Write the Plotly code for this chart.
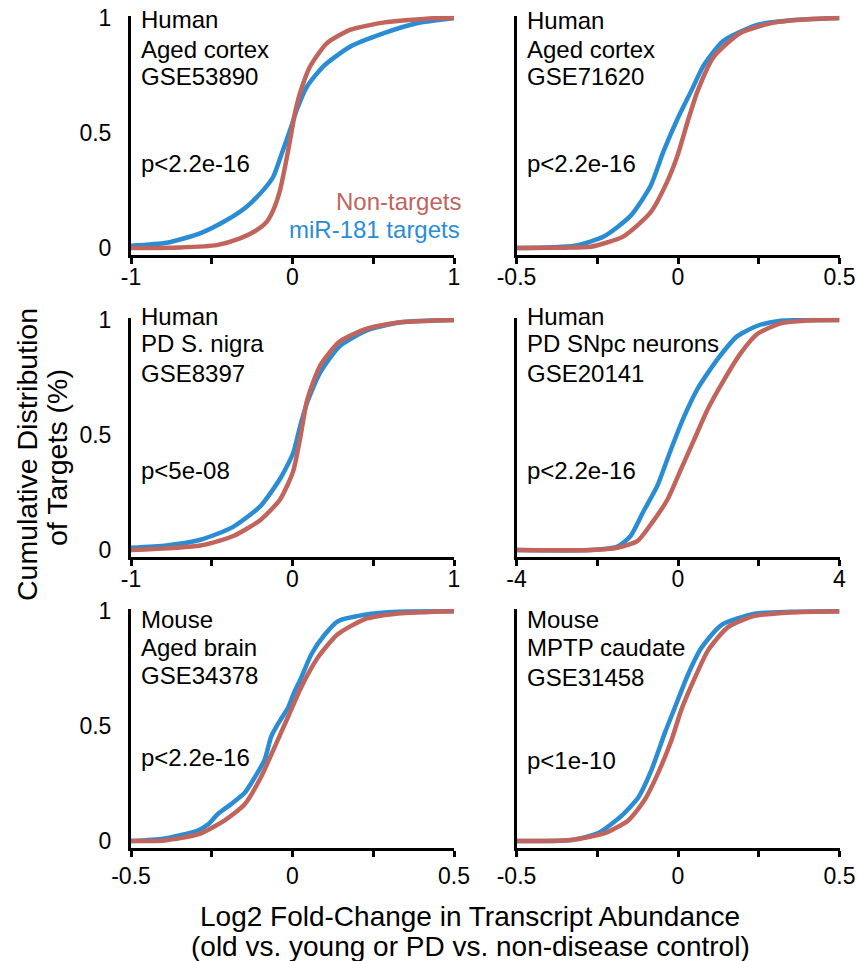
import plotly.graph_objects as go

W, H = 857, 961
RED = "#C1645C"
BLUE = "#2A8DD4"
FONT = "Liberation Sans, Arial, sans-serif"

# ---------------- data ----------------
p1_nt_x = [-1, -0.7, -0.469, -0.325, -0.222, -0.16, -0.119, -0.077, -0.046, -0.015, 0.015, 0.046, 0.108, 0.212, 0.356, 0.562, 0.872, 1.0]
p1_nt_y = [0.0, 0.003, 0.013, 0.042, 0.078, 0.114, 0.165, 0.252, 0.354, 0.47, 0.586, 0.672, 0.788, 0.89, 0.948, 0.98, 0.999, 1.0]
p1_t_x = [-1, -0.779, -0.573, -0.407, -0.284, -0.181, -0.119, -0.067, -0.015, 0.026, 0.088, 0.191, 0.356, 0.562, 0.769, 1.0]
p1_t_y = [0.01, 0.023, 0.064, 0.122, 0.18, 0.252, 0.31, 0.41, 0.513, 0.6, 0.70, 0.79, 0.875, 0.933, 0.977, 1.0]

p2_nt_x = [-0.5, -0.35, -0.27, -0.17, -0.085, -0.033, -0.002, 0.03, 0.06, 0.11, 0.193, 0.296, 0.4, 0.5]
p2_nt_y = [0.0, 0.002, 0.006, 0.05, 0.155, 0.29, 0.40, 0.55, 0.68, 0.83, 0.935, 0.98, 0.995, 1.0]
p2_t_x = [-0.5, -0.32, -0.23, -0.147, -0.085, -0.045, -0.002, 0.04, 0.08, 0.14, 0.245, 0.35, 0.5]
p2_t_y = [0.0, 0.01, 0.05, 0.14, 0.27, 0.42, 0.56, 0.68, 0.795, 0.90, 0.97, 0.99, 1.0]

p3_nt_x = [-1, -0.57, -0.37, -0.2, -0.077, 0.003, 0.046, 0.09, 0.17, 0.29, 0.46, 0.67, 1.0]
p3_nt_y = [0.0, 0.02, 0.06, 0.13, 0.22, 0.34, 0.48, 0.65, 0.80, 0.905, 0.962, 0.99, 1.0]
p3_t_x = [-1, -0.78, -0.57, -0.37, -0.2, -0.077, 0.003, 0.046, 0.09, 0.17, 0.29, 0.46, 0.67, 1.0]
p3_t_y = [0.01, 0.02, 0.045, 0.10, 0.19, 0.31, 0.42, 0.535, 0.64, 0.77, 0.885, 0.955, 0.99, 1.0]

p4_nt_x = [-4, -2.17, -1.5, -1.0, -0.68, -0.26, 0.07, 0.40, 0.73, 1.14, 1.55, 1.97, 2.54, 3.2, 4]
p4_nt_y = [0.0, 0.0, 0.01, 0.04, 0.11, 0.22, 0.35, 0.48, 0.61, 0.74, 0.855, 0.94, 0.985, 0.998, 1.0]
p4_t_x = [-4, -2.17, -1.5, -1.18, -0.85, -0.51, -0.18, 0.15, 0.48, 0.98, 1.47, 1.97, 2.54, 4]
p4_t_y = [0.0, 0.0, 0.015, 0.06, 0.17, 0.28, 0.435, 0.58, 0.70, 0.83, 0.93, 0.975, 0.997, 1.0]

p5_nt_x = [-0.5, -0.396, -0.29, -0.21, -0.148, -0.097, -0.055, -0.014, 0.027, 0.079, 0.14, 0.223, 0.327, 0.5]
p5_nt_y = [0.0, 0.003, 0.03, 0.09, 0.16, 0.28, 0.41, 0.54, 0.67, 0.80, 0.90, 0.965, 0.99, 1.0]
p5_t_x = [-0.5, -0.4, -0.293, -0.262, -0.231, -0.189, -0.148, -0.117, -0.086, -0.066, -0.045, -0.014, 0.007, 0.027, 0.058, 0.1, 0.141, 0.224, 0.327, 0.5]
p5_t_y = [0.0, 0.01, 0.046, 0.072, 0.118, 0.162, 0.21, 0.277, 0.355, 0.455, 0.51, 0.58, 0.653, 0.711, 0.812, 0.899, 0.957, 0.985, 0.998, 1.0]

p6_nt_x = [-0.5, -0.33, -0.226, -0.154, -0.103, -0.062, -0.02, 0.01, 0.052, 0.093, 0.154, 0.237, 0.35, 0.5]
p6_nt_y = [0.0, 0.005, 0.035, 0.09, 0.18, 0.295, 0.44, 0.57, 0.71, 0.83, 0.93, 0.98, 0.995, 1.0]
p6_t_x = [-0.5, -0.33, -0.247, -0.175, -0.123, -0.082, -0.041, -0.01, 0.031, 0.072, 0.134, 0.237, 0.35, 0.5]
p6_t_y = [0.0, 0.005, 0.035, 0.11, 0.19, 0.31, 0.47, 0.58, 0.725, 0.84, 0.94, 0.99, 0.998, 1.0]

panel_lines = [
    ["Human", "Aged cortex", "GSE53890", "p<2.2e-16"],
    ["Human", "Aged cortex", "GSE71620", "p<2.2e-16"],
    ["Human", "PD S. nigra", "GSE8397", "p<5e-08"],
    ["Human", "PD SNpc neurons", "GSE20141", "p<2.2e-16"],
    ["Mouse", "Aged brain", "GSE34378", "p<2.2e-16"],
    ["Mouse", "MPTP caudate", "GSE31458", "p<1e-10"],
]
x_ranges = [(-1, 1), (-0.5, 0.5), (-1, 1), (-4, 4), (-0.5, 0.5), (-0.5, 0.5)]
x_tickvals = [[-1, -0.5, 0, 0.5, 1], [-0.5, -0.25, 0, 0.25, 0.5], [-1, -0.5, 0, 0.5, 1],
              [-4, -2, 0, 2, 4], [-0.5, -0.25, 0, 0.25, 0.5], [-0.5, -0.25, 0, 0.25, 0.5]]
x_ticktext = [["-1", "", "0", "", "1"], ["-0.5", "", "0", "", "0.5"], ["-1", "", "0", "", "1"],
              ["-4", "", "0", "", "4"], ["-0.5", "", "0", "", "0.5"], ["-0.5", "", "0", "", "0.5"]]
y_tickvals = [0, 0.5, 1]
y_ticktext = ["0", "0.5", "1"]
legend_labels = ["Non-targets", "miR-181 targets"]
x_title = ["Log2 Fold-Change in Transcript Abundance", "(old vs. young or PD vs. non-disease control)"]
y_title = ["Cumulative Distribution", "of Targets (%)"]

series = [
    (p1_t_x, p1_t_y, p1_nt_x, p1_nt_y),
    (p2_t_x, p2_t_y, p2_nt_x, p2_nt_y),
    (p3_t_x, p3_t_y, p3_nt_x, p3_nt_y),
    (p4_t_x, p4_t_y, p4_nt_x, p4_nt_y),
    (p5_t_x, p5_t_y, p5_nt_x, p5_nt_y),
    (p6_t_x, p6_t_y, p6_nt_x, p6_nt_y),
]

# ---------------- layout geometry (pixels) ----------------
col_px = [(131, 454), (516.5, 839.5)]
row_px = [(15.7, 255), (317.7, 557), (609, 848)]  # top, bottom
YR = [-0.03, 1.01]

def px(xp):
    return xp / W

def py(yp):
    return 1 - yp / H

fig = go.Figure()
layout = dict(
    width=W, height=H, margin=dict(l=0, r=0, t=0, b=0, autoexpand=False),
    paper_bgcolor="white", plot_bgcolor="white", showlegend=False,
    font=dict(family=FONT, color="black", size=22),
)

# text line pixel y-centres for each panel
text_y = [
    [19.5, 49.5, 76.5, 164],
    [20.5, 50, 77, 163],
    [316, 344, 374, 470],
    [316, 344, 374, 470],
    [619.5, 647.5, 675.5, 757.5],
    [619.5, 647.5, 677, 760],
]
annotations = []
for i in range(6):
    r, c = divmod(i, 2)
    n = i + 1
    xa = "xaxis" if n == 1 else f"xaxis{n}"
    ya = "yaxis" if n == 1 else f"yaxis{n}"
    xr = "x" if n == 1 else f"x{n}"
    yr = "y" if n == 1 else f"y{n}"
    tx, ty, ntx, nty = series[i]
    fig.add_trace(go.Scatter(x=tx, y=ty, mode="lines", xaxis=xr, yaxis=yr,
                             line=dict(color=BLUE, width=4.5, shape="spline", smoothing=0.6),
                             name=legend_labels[1]))
    fig.add_trace(go.Scatter(x=ntx, y=nty, mode="lines", xaxis=xr, yaxis=yr,
                             line=dict(color=RED, width=4.5, shape="spline", smoothing=0.6),
                             name=legend_labels[0]))
    x0, x1 = col_px[c]
    y0, y1 = row_px[r]
    layout[xa] = dict(domain=[px(x0), px(x1)], range=list(x_ranges[i]), anchor=yr,
                      automargin=False,
                      showline=True, linecolor="black", linewidth=3, showgrid=False, zeroline=False,
                      ticks="outside", ticklen=6, tickwidth=2.5, tickcolor="black",
                      tickvals=x_tickvals[i], ticktext=x_ticktext[i],
                      tickfont=dict(size=23, family=FONT, color="black"),
                      ticklabelstandoff=(-1 if r == 2 else -7))
    layout[ya] = dict(domain=[py(y1), py(y0)], range=YR, anchor=xr,
                      automargin=False,
                      showline=True, linecolor="black", linewidth=3, showgrid=False, zeroline=False,
                      ticks="", tickvals=y_tickvals,
                      ticktext=(y_ticktext if c == 0 else ["", "", ""]),
                      tickfont=dict(size=23, family=FONT, color="black"),
                      ticklabelstandoff=12)
    for k, txt in enumerate(panel_lines[i]):
        annotations.append(dict(text=txt, xref="paper", yref="paper",
                                x=px(x0 + 8), y=py(text_y[i][k]), xanchor="left", yanchor="middle",
                                showarrow=False, font=dict(size=24, family=FONT, color="black")))

# legend text in first panel
annotations.append(dict(text=legend_labels[0], xref="paper", yref="paper", x=px(463), y=py(201.5),
                        xanchor="right", yanchor="middle", showarrow=False,
                        font=dict(size=24, family=FONT, color=RED)))
annotations.append(dict(text=legend_labels[1], xref="paper", yref="paper", x=px(462), y=py(229.5),
                        xanchor="right", yanchor="middle", showarrow=False,
                        font=dict(size=24, family=FONT, color=BLUE)))
# axis titles
annotations.append(dict(text=x_title[0], xref="paper", yref="paper", x=px(470), y=py(916),
                        xanchor="center", yanchor="middle", showarrow=False,
                        font=dict(size=28, family=FONT, color="black")))
annotations.append(dict(text=x_title[1], xref="paper", yref="paper", x=px(470), y=py(946),
                        xanchor="center", yanchor="middle", showarrow=False,
                        font=dict(size=28, family=FONT, color="black")))
annotations.append(dict(text=y_title[0], xref="paper", yref="paper", x=px(27), y=py(455),
                        xanchor="center", yanchor="middle", textangle=-90, showarrow=False,
                        font=dict(size=28.5, family=FONT, color="black")))
annotations.append(dict(text=y_title[1], xref="paper", yref="paper", x=px(57), y=py(458),
                        xanchor="center", yanchor="middle", textangle=-90, showarrow=False,
                        font=dict(size=28.5, family=FONT, color="black")))
layout["annotations"] = annotations
fig.update_layout(**layout)
fig.write_html("out.html",
               config={"displayModeBar": False},
               post_script="document.body.style.margin='0';document.body.style.padding='0';")
